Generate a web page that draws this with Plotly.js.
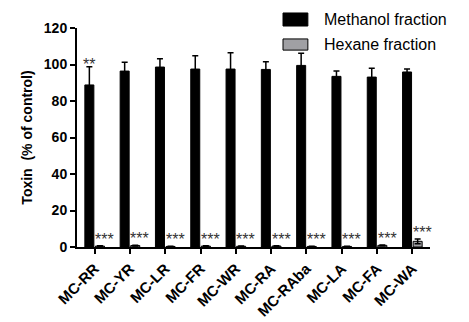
<!DOCTYPE html>
<html><head><meta charset="utf-8">
<script src="https://cdn.plot.ly/plotly-3.0.1.min.js"></script>
<style>html,body{margin:0;padding:0;background:#fff}#c{width:469px;height:322px}</style>
</head><body><div id="c"></div>
<script>
const categories = ["MC-RR","MC-YR","MC-LR","MC-FR","MC-WR","MC-RA","MC-RAba","MC-LA","MC-FA","MC-WA"];
const methanol = [88.8, 96.4, 98.6, 97.5, 97.5, 97.3, 99.5, 93.5, 93.1, 95.9];
const methanolErr = [10.0, 4.8, 4.6, 7.3, 9.0, 4.2, 6.6, 2.9, 4.8, 1.6];
const hexane = [0.5, 0.8, 0.3, 0.5, 0.4, 0.5, 0.3, 0.3, 0.9, 3.1];
const hexaneErr = [0.2, 0.2, 0.1, 0.2, 0.1, 0.2, 0.1, 0.1, 0.2, 1.3];
const methanolSig = ["**","","","","","","","","",""];
const hexaneSig = ["***","***","***","***","***","***","***","***","***","***"];
const yTicks = [0,20,40,60,80,100,120];
const seriesNames = ["Methanol fraction","Hexane fraction"];
const seriesColors = ["#000000","#a0a0a4"];

const traces = [
  {type:"bar", name:seriesNames[0], x:categories, y:methanol, showlegend:false,
   marker:{color:seriesColors[0], line:{color:"#000000", width:1}},
   error_y:{type:"data", array:methanolErr, visible:true, color:"#000000", thickness:1.5, width:3}},
  {type:"bar", name:seriesNames[1], x:categories, y:hexane, showlegend:false,
   marker:{color:seriesColors[1], line:{color:"#000000", width:1}},
   error_y:{type:"data", array:hexaneErr, visible:true, color:"#000000", thickness:1.5, width:3}}
];

const annotations = [];
categories.forEach((c,i)=>{
  if (methanolSig[i]) annotations.push({x:c, y:methanol[i]+methanolErr[i], xref:"x", yref:"y", text:methanolSig[i], showarrow:false, xshift:-5.5, yanchor:"bottom", yshift:-8, font:{family:"Arial", size:16, color:"#333"}});
  if (hexaneSig[i]) annotations.push({x:c, y:hexane[i]+hexaneErr[i], xref:"x", yref:"y", text:hexaneSig[i], showarrow:false, xshift:10, yanchor:"bottom", yshift:-4, font:{family:"Arial", size:16, color:"#333"}});
});

// custom legend (wide swatches like the original)
const legY = [[1.009,1.0686],[0.899,0.950]];
const shapes = [];
seriesNames.forEach((n,k)=>{
  shapes.push({type:"rect", xref:"paper", yref:"paper", x0:0.5836, x1:0.654, y0:legY[k][0], y1:legY[k][1], fillcolor:seriesColors[k], line:{color:"#000", width:1}});
  annotations.push({xref:"paper", yref:"paper", x:0.695, y:(legY[k][0]+legY[k][1])/2, xanchor:"left", yanchor:"middle", text:n, showarrow:false, font:{family:"Arial", size:16, color:"#000"}});
});

const layout = {
  width:469, height:322,
  margin:{l:77, r:39, t:28, b:75, pad:0, autoexpand:false},
  paper_bgcolor:"#fff", plot_bgcolor:"#fff",
  barmode:"group", bargap:0.4, bargroupgap:0.15,
  font:{family:"Arial", color:"#000"},
  showlegend:false,
  xaxis:{type:"category", range:[-0.5,9.5], showline:true, linecolor:"#000", linewidth:2, ticks:"outside", ticklen:5, tickwidth:2, tickcolor:"#000", tickangle:-45, automargin:false, tickfont:{size:15, family:"Arial", color:"#000", weight:"bold"}, showgrid:false, zeroline:false},
  yaxis:{range:[0,120], tickvals:yTicks, showline:true, linecolor:"#000", linewidth:2, ticks:"outside", ticklen:5, tickwidth:2, tickcolor:"#000", automargin:false, tickfont:{size:14, family:"Arial", color:"#000", weight:"bold"}, showgrid:false, zeroline:false,
    title:{text:"Toxin  (% of control)", font:{size:14, family:"Arial", color:"#000", weight:"bold"}, standoff:8}},
  annotations:annotations, shapes:shapes
};
Plotly.newPlot("c", traces, layout, {displayModeBar:false});
</script></body></html>
